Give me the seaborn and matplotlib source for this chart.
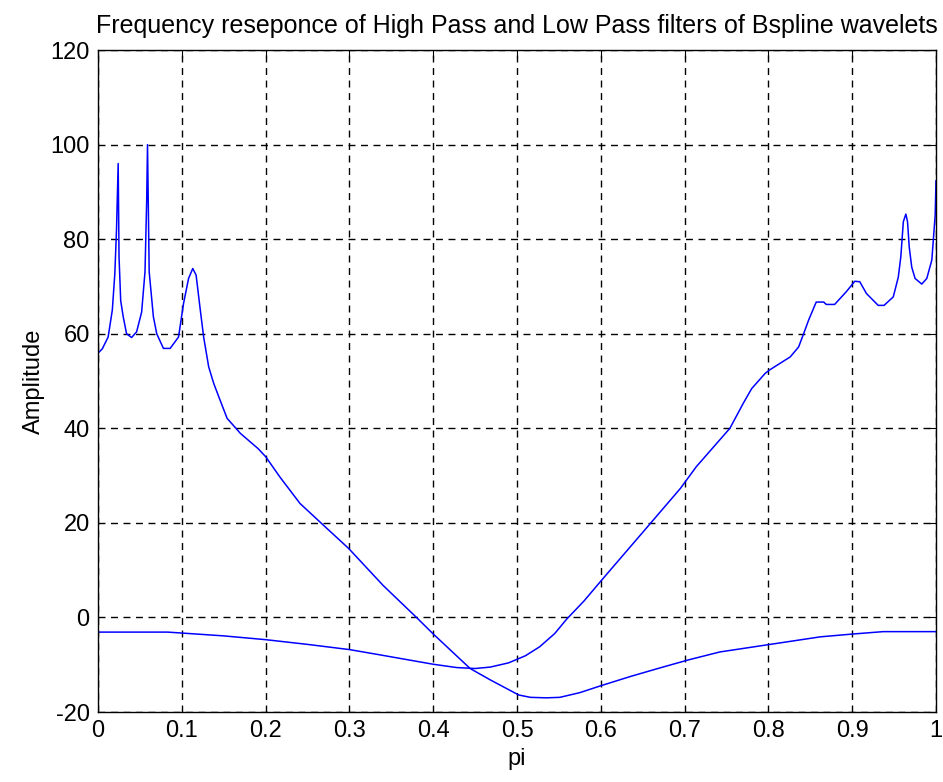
import matplotlib
matplotlib.use("Agg")
import matplotlib.pyplot as plt
import seaborn as sns

# curve that starts high (peaks at low frequency)
lowpass_x = [0.0, 0.005, 0.012, 0.017, 0.020, 0.022, 0.024, 0.025, 0.027, 0.030,
             0.034, 0.040, 0.046, 0.052, 0.056, 0.058, 0.059, 0.061, 0.066, 0.070,
             0.078, 0.086, 0.096, 0.102, 0.108, 0.113, 0.117, 0.122, 0.126, 0.132,
             0.138, 0.144, 0.154, 0.170, 0.191, 0.200, 0.217, 0.241, 0.269, 0.299,
             0.340, 0.380, 0.400, 0.444, 0.468, 0.502, 0.516, 0.535, 0.551, 0.575,
             0.599, 0.635, 0.670, 0.704, 0.742, 0.802, 0.862, 0.901, 0.937, 1.0]
lowpass_amp = [55.9, 56.8, 59.3, 65.0, 72.7, 82.0, 96.0, 76.3, 67.0, 63.6,
               60.0, 59.2, 60.4, 64.6, 73.1, 88.0, 100.0, 73.1, 63.6, 60.0,
               56.9, 56.9, 59.3, 66.4, 71.7, 73.8, 72.4, 65.0, 59.3, 53.0,
               49.5, 46.7, 42.1, 38.9, 35.7, 34.0, 29.7, 24.1, 19.5, 14.6,
               6.8, 0.0, -3.5, -10.8, -13.2, -16.4, -16.9, -17.0, -16.9, -15.9,
               -14.5, -12.5, -10.7, -9.0, -7.3, -5.7, -4.1, -3.5, -3.0, -3.0]

# curve that starts low and rises at high frequency
highpass_x = [0.0, 0.083, 0.100, 0.150, 0.200, 0.250, 0.300, 0.336, 0.400, 0.428,
              0.450, 0.468, 0.490, 0.510, 0.527, 0.545, 0.559, 0.580, 0.601, 0.650, 0.695,
              0.714, 0.754, 0.770, 0.780, 0.796, 0.801, 0.826, 0.836, 0.842, 0.848,
              0.857, 0.866, 0.869, 0.879, 0.893, 0.903, 0.909, 0.917, 0.931, 0.938,
              0.949, 0.955, 0.958, 0.961, 0.964, 0.966, 0.968, 0.971, 0.975, 0.983,
              0.989, 0.995, 0.999, 1.0]
highpass_amp = [-3.1, -3.1, -3.3, -3.9, -4.7, -5.7, -6.8, -7.9, -9.9, -10.6,
                -10.8, -10.5, -9.6, -8.1, -6.2, -3.4, -0.4, 3.5, 7.9, 18.0, 27.3,
                31.9, 40.0, 45.3, 48.4, 51.6, 52.3, 55.1, 57.2, 60.0, 62.9,
                66.7, 66.7, 66.2, 66.2, 68.9, 71.1, 71.0, 68.5, 66.0, 66.0,
                67.8, 72.0, 76.3, 83.7, 85.3, 83.7, 78.4, 74.1, 71.7, 70.5,
                71.7, 75.6, 85.1, 92.4]

x_ticks = [0, 0.1, 0.2, 0.3, 0.4, 0.5, 0.6, 0.7, 0.8, 0.9, 1]
x_tick_labels = ["0", "0.1", "0.2", "0.3", "0.4", "0.5", "0.6", "0.7", "0.8", "0.9", "1"]
y_ticks = [-20, 0, 20, 40, 60, 80, 100, 120]

sns.set_style("white")
plt.rcParams['font.family'] = ['Liberation Sans', 'DejaVu Sans']
plt.rcParams['axes.unicode_minus'] = False
plt.rcParams['text.color'] = 'black'
plt.rcParams['axes.labelcolor'] = 'black'

fig, ax = plt.subplots(figsize=(9.43, 7.82), dpi=100)
fig.subplots_adjust(left=0.104, right=0.9926, top=0.936, bottom=0.0895)

sns.lineplot(x=lowpass_x, y=lowpass_amp, ax=ax, color='#0000ff', lw=1.1,
             estimator=None, sort=False)
sns.lineplot(x=highpass_x, y=highpass_amp, ax=ax, color='#0000ff', lw=1.1,
             estimator=None, sort=False)

ax.set_xlim(0, 1)
ax.set_ylim(-20, 120)
ax.set_xticks(x_ticks)
ax.set_xticklabels(x_tick_labels)
ax.set_yticks(y_ticks)
ax.grid(True, color='black', linestyle=(0, (5, 4)), linewidth=1.0)
ax.set_axisbelow(True)
ax.tick_params(direction='in', length=6, width=0.8, top=True, right=True,
               labelsize=17, colors='black', pad=6)
for s in ax.spines.values():
    s.set_color('black')
    s.set_linewidth(1.0)

ax.set_title('Frequency reseponce of High Pass and Low Pass filters of Bspline wavelets',
             fontsize=18, pad=12, color='black')
ax.set_xlabel('pi', fontsize=17)
ax.set_ylabel('Amplitude', fontsize=17)

plt.savefig('out.png', dpi=100)
